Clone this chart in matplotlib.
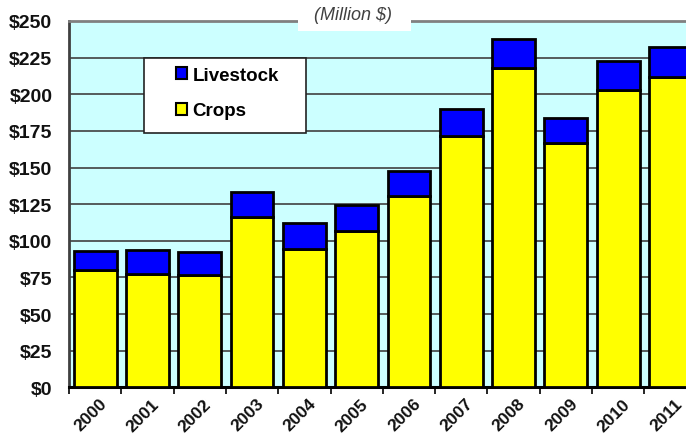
import numpy as np
import matplotlib
matplotlib.use("Agg")
import matplotlib.pyplot as plt
from matplotlib.patches import Rectangle, Patch
import matplotlib.transforms as mtransforms

years = ["2000", "2001", "2002", "2003", "2004", "2005",
         "2006", "2007", "2008", "2009", "2010", "2011"]
crops = [80.1, 77.2, 76.5, 116.2, 94.5, 107.0, 130.9, 171.2, 218.1, 166.9, 202.6, 211.5]
livestock = [13.2, 16.6, 15.9, 17.0, 17.7, 17.5, 16.6, 18.4, 19.8, 16.8, 19.8, 20.9]
yticks = [0, 25, 50, 75, 100, 125, 150, 175, 200, 225, 250]

plt.rcParams['font.family'] = ['Liberation Sans', 'DejaVu Sans']

fig = plt.figure(figsize=(6.86, 4.39), dpi=100)
ax = fig.add_axes([69/686, 1 - 388.3/439, 627.6/686, 366.3/439])
ax.set_facecolor('#CCFFFF')

x = np.arange(len(years))
w = 0.82
ax.bar(x, crops, w, color='#FFFF00', edgecolor='black', linewidth=2, zorder=3)
ax.bar(x, livestock, w, bottom=crops, color='#0000FF', edgecolor='black', linewidth=2, zorder=3)

ax.set_xlim(-0.5, len(years) - 0.5)
ax.set_ylim(0, 250)
ax.set_yticks(yticks)
ax.set_yticklabels([f"\\${v}" for v in yticks], fontsize=14, fontweight='bold', color='#111111')
ax.tick_params(axis='y', length=0, pad=12)
ax.yaxis.grid(True, color='#404040', linewidth=1.2, zorder=1)
ax.set_axisbelow(True)

ax.set_xticks(np.arange(-0.5, len(years) + 0.5, 1))
ax.set_xticklabels([])
ax.set_xticks(x, minor=True)
ax.set_xticklabels(years, minor=True, rotation=45, ha='right', va='top',
                   rotation_mode='anchor', fontsize=12.5, fontweight='bold', color='#111111')
ax.tick_params(axis='x', which='major', length=5, width=1.2, color='black', direction='out')
ax.tick_params(axis='x', which='minor', length=0, pad=6)
offset = mtransforms.ScaledTranslation(4/100, 0, fig.dpi_scale_trans)
for lab in ax.get_xticklabels(minor=True):
    lab.set_transform(lab.get_transform() + offset)

ax.spines['left'].set_color('#404040')
ax.spines['left'].set_linewidth(2)
ax.spines['bottom'].set_color('black')
ax.spines['bottom'].set_linewidth(2.2)
ax.spines['top'].set_color('#808080')
ax.spines['top'].set_linewidth(2)
ax.spines['right'].set_visible(False)

# legend box
lx0, lx1 = (144-69)/627.6, (306-69)/627.6
ly0, ly1 = (388.3-134)/366.3, (388.3-59)/366.3
ax.add_patch(Rectangle((lx0, ly0), lx1-lx0, ly1-ly0, transform=ax.transAxes,
                       facecolor='white', edgecolor='#222222', linewidth=1.2, zorder=5))
handles = [Patch(facecolor='#0000FF', edgecolor='black', linewidth=1.5),
           Patch(facecolor='#FFFF00', edgecolor='black', linewidth=1.5)]
leg = ax.legend(handles, ["Livestock", "Crops"], loc='upper left',
                bbox_to_anchor=((172-69)/627.6, (388.3-64)/366.3),
                frameon=False, prop={'weight': 'bold', 'size': 13.5},
                handlelength=0.6, handleheight=0.6, handletextpad=0.3,
                labelspacing=1.0, borderaxespad=0, borderpad=0.2)
leg.set_zorder(6)

# title with white box
fig.patches.append(Rectangle((298/686, 1 - 32/439), 113/686, 32/439,
                             transform=fig.transFigure, facecolor='white',
                             edgecolor='none', zorder=10))
fig.text(353/686, 1 - 15/439, "(Million \\$)", ha='center', va='center',
         fontsize=13, style='italic', color='#404040', zorder=11)

fig.savefig("out.png", dpi=100)
